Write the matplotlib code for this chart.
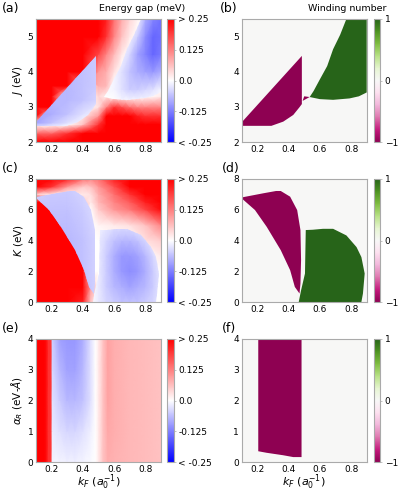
import numpy as np
import matplotlib
matplotlib.use('Agg')
import matplotlib.pyplot as plt
from matplotlib.patches import Polygon
from matplotlib.colors import Normalize
from matplotlib.cm import ScalarMappable

# ---------- data ----------
kf_ticks = [0.2, 0.4, 0.6, 0.8]

# winding-number regions (b): J vs kF
b_minus_kf = [0.1, 0.485, 0.485, 0.47, 0.43, 0.366, 0.29, 0.1]
b_minus_J = [2.56, 4.45, 3.08, 2.99, 2.77, 2.58, 2.46, 2.46]
b_small_kf = [0.49, 0.535, 0.5]
b_small_J = [3.17, 3.28, 3.3]
b_plus_kf = [0.535, 0.56, 0.6, 0.647, 0.685, 0.73, 0.77, 0.9, 0.9, 0.85, 0.79, 0.685, 0.6]
b_plus_J = [3.28, 3.45, 3.78, 4.16, 4.64, 5.05, 5.5, 5.5, 3.41, 3.3, 3.24, 3.2, 3.22]

# winding-number regions (d): K vs kF
d_minus_kf = [0.1, 0.185, 0.26, 0.35, 0.41, 0.44, 0.47, 0.476, 0.48, 0.476, 0.455,
              0.41, 0.35, 0.32, 0.238, 0.1]
d_minus_K = [6.74, 5.98, 4.89, 3.37, 2.07, 0.98, 0.55, 1.2, 2.72, 4.68, 5.98,
             6.85, 7.22, 7.22, 7.07, 6.8]
d_plus_kf = [0.51, 0.555, 0.62, 0.685, 0.77, 0.835, 0.866, 0.887, 0.876, 0.866,
             0.465, 0.48, 0.505]
d_plus_K = [4.68, 4.7, 4.76, 4.76, 4.33, 3.57, 2.92, 1.85, 0.55, 0.0,
            0.0, 0.76, 1.85]

# winding-number region (f): alpha_R vs kF
f_minus_kf = [0.206, 0.483, 0.483, 0.43, 0.365, 0.259, 0.206]
f_minus_a = [4.0, 4.0, 0.16, 0.16, 0.22, 0.30, 0.35]

# energy gap (a): background field
a_kf = [0.1, 0.2, 0.3, 0.4, 0.5, 0.55, 0.6, 0.65, 0.7, 0.75, 0.8, 0.9]
a_J = [2.0, 2.25, 2.5, 2.75, 3.0, 3.3, 3.6, 4.0, 4.5, 5.0, 5.5]
a_gap = [
    [0.3, 0.3, 0.3, 0.3, 0.3, 0.3, 0.3, 0.3, 0.3, 0.3, 0.3, 0.3],
    [0.15, 0.15, 0.2, 0.28, 0.3, 0.3, 0.3, 0.3, 0.3, 0.3, 0.3, 0.3],
    [0.0, 0.0, 0.0, 0.06, 0.2, 0.3, 0.3, 0.3, 0.3, 0.3, 0.28, 0.26],
    [0.3, 0.0, 0.0, 0.02, 0.1, 0.26, 0.3, 0.28, 0.25, 0.22, 0.2, 0.2],
    [0.3, 0.3, 0.0, 0.0, 0.03, 0.12, 0.2, 0.17, 0.14, 0.12, 0.12, 0.12],
    [0.3, 0.3, 0.0, 0.0, 0.04, 0.02, 0.0, 0.0, 0.0, 0.0, 0.0, 0.02],
    [0.3, 0.3, 0.3, 0.0, 0.08, 0.07, 0.0, 0.0, 0.0, 0.0, 0.0, 0.0],
    [0.3, 0.3, 0.3, 0.3, 0.1, 0.08, 0.03, 0.0, 0.0, 0.0, 0.0, 0.0],
    [0.3, 0.3, 0.3, 0.3, 0.18, 0.12, 0.07, 0.02, 0.0, 0.0, 0.0, 0.0],
    [0.3, 0.3, 0.3, 0.3, 0.28, 0.2, 0.12, 0.06, 0.02, 0.0, 0.0, 0.0],
    [0.3, 0.3, 0.3, 0.3, 0.3, 0.22, 0.14, 0.08, 0.04, 0.01, 0.0, 0.0],
]
# energy gap (a): inside the -1 region
aw_kf = [0.1, 0.2, 0.3, 0.4, 0.5]
aw_J = [2.4, 2.55, 2.8, 3.2, 3.6, 4.0, 4.5]
aw_gap = [
    [-0.02, -0.01, 0.0, 0.0, 0.0],
    [-0.09, -0.06, -0.03, -0.01, 0.0],
    [-0.09, -0.08, -0.06, -0.03, -0.01],
    [-0.08, -0.07, -0.07, -0.06, -0.04],
    [-0.07, -0.07, -0.07, -0.06, -0.05],
    [-0.07, -0.07, -0.07, -0.06, -0.05],
    [-0.07, -0.07, -0.07, -0.06, -0.05],
]
# energy gap (a): inside the +1 region
ag_kf = [0.5, 0.6, 0.65, 0.7, 0.75, 0.8, 0.85, 0.9]
ag_J = [3.2, 3.5, 4.0, 4.5, 5.0, 5.5]
ag_gap = [
    [0.0, 0.0, -0.01, -0.01, -0.01, -0.01, -0.005, 0.0],
    [0.0, -0.01, -0.03, -0.05, -0.05, -0.04, -0.03, -0.01],
    [0.0, -0.01, -0.03, -0.06, -0.08, -0.09, -0.1, -0.08],
    [0.0, 0.0, -0.01, -0.04, -0.09, -0.12, -0.15, -0.13],
    [0.0, 0.0, 0.0, -0.01, -0.05, -0.11, -0.15, -0.14],
    [0.0, 0.0, 0.0, 0.0, -0.01, -0.08, -0.12, -0.14],
]

# energy gap (c): background field
c_kf = [0.1, 0.2, 0.3, 0.4, 0.45, 0.5, 0.6, 0.7, 0.8, 0.9]
c_K = [0, 1, 2, 3, 4, 5, 6, 6.5, 7, 7.5, 8]
c_gap = [
    [0.3, 0.3, 0.3, 0.22, 0.06, 0.0, 0.0, 0.0, 0.0, 0.0],
    [0.3, 0.3, 0.3, 0.25, 0.1, 0.0, 0.0, 0.0, 0.0, 0.0],
    [0.3, 0.3, 0.3, 0.3, 0.0, 0.0, 0.0, 0.0, 0.0, 0.0],
    [0.3, 0.3, 0.3, 0.3, 0.0, 0.0, 0.0, 0.0, 0.0, 0.02],
    [0.3, 0.3, 0.3, 0.3, 0.0, 0.0, 0.0, 0.0, 0.03, 0.05],
    [0.3, 0.3, 0.3, 0.2, 0.0, 0.01, 0.02, 0.03, 0.06, 0.12],
    [0.3, 0.3, 0.3, 0.1, 0.0, 0.05, 0.1, 0.13, 0.18, 0.24],
    [0.3, 0.3, 0.1, 0.05, 0.02, 0.07, 0.12, 0.16, 0.22, 0.28],
    [0.05, 0.02, 0.01, 0.02, 0.03, 0.08, 0.14, 0.2, 0.27, 0.3],
    [0.3, 0.2, 0.1, 0.05, 0.06, 0.1, 0.17, 0.26, 0.3, 0.3],
    [0.3, 0.3, 0.22, 0.14, 0.12, 0.14, 0.22, 0.3, 0.3, 0.3],
]
cw_kf = [0.1, 0.2, 0.3, 0.4, 0.5]
cw_K = [0, 2, 4, 6, 7.5]
cw_gap = [
    [-0.07, -0.07, -0.07, -0.07, -0.04],
    [-0.07, -0.07, -0.07, -0.06, -0.04],
    [-0.07, -0.07, -0.07, -0.06, -0.04],
    [-0.06, -0.06, -0.06, -0.05, -0.03],
    [-0.04, -0.05, -0.05, -0.04, -0.02],
]
cg_kf = [0.45, 0.5, 0.55, 0.6, 0.65, 0.7, 0.75, 0.8, 0.85, 0.9]
cg_K = [0, 1, 2, 3, 4, 5]
cg_gap = [
    [0.0, -0.02, -0.04, -0.05, -0.06, -0.06, -0.06, -0.05, -0.04, -0.02],
    [0.0, -0.02, -0.05, -0.07, -0.08, -0.09, -0.08, -0.07, -0.05, -0.02],
    [0.0, -0.02, -0.05, -0.08, -0.1, -0.11, -0.1, -0.08, -0.05, -0.02],
    [0.0, -0.02, -0.05, -0.08, -0.1, -0.1, -0.09, -0.07, -0.04, -0.01],
    [0.0, -0.02, -0.04, -0.06, -0.07, -0.07, -0.06, -0.04, -0.02, 0.0],
    [0.0, -0.01, -0.02, -0.03, -0.03, -0.03, -0.02, -0.01, 0.0, 0.0],
]

# energy gap (e): alpha_R vs kF
e_kf = [0.1, 0.15, 0.165, 0.18, 0.195, 0.205, 0.25, 0.3, 0.35, 0.4, 0.45, 0.48,
        0.5, 0.53, 0.56, 0.6, 0.7, 0.8, 0.9]
e_a = [0, 1, 2, 3, 4]
e_gap = [
    [0.3, 0.3, 0.24, 0.2, 0.2, -0.01, -0.01, -0.015, -0.015, -0.01, -0.005, 0.0,
     0.02, 0.06, 0.08, 0.075, 0.07, 0.065, 0.06],
    [0.3, 0.3, 0.24, 0.2, 0.2, -0.02, -0.03, -0.04, -0.04, -0.03, -0.015, 0.0,
     0.02, 0.06, 0.085, 0.08, 0.07, 0.065, 0.06],
    [0.3, 0.3, 0.24, 0.2, 0.2, -0.03, -0.05, -0.07, -0.07, -0.06, -0.03, 0.0,
     0.02, 0.06, 0.09, 0.08, 0.07, 0.065, 0.06],
    [0.3, 0.3, 0.24, 0.2, 0.2, -0.04, -0.07, -0.09, -0.09, -0.07, -0.03, 0.0,
     0.02, 0.06, 0.09, 0.08, 0.07, 0.065, 0.06],
    [0.3, 0.3, 0.24, 0.2, 0.2, -0.05, -0.09, -0.1, -0.1, -0.08, -0.03, 0.0,
     0.02, 0.06, 0.09, 0.08, 0.07, 0.065, 0.06],
]

gap_ticks = [-0.25, -0.125, 0.0, 0.125, 0.25]
gap_labels = ['< -0.25', '-0.125', '0.0', '0.125', '> 0.25']

# ---------- figure ----------
W, H = 399, 492
fig = plt.figure(figsize=(W / 100, H / 100), dpi=100)
plt.rcParams['font.family'] = 'DejaVu Sans'

gap_cmap = plt.get_cmap('bwr')
gap_norm = Normalize(-0.25, 0.25)
wind_cmap = plt.get_cmap('PiYG')
wind_norm = Normalize(-1, 1)
spine_c = '#aaaaaa'


def px_axes(x0, y0, w, h):
    return fig.add_axes([x0 / W, 1 - (y0 + h) / H, w / W, h / H])


def style(ax, xlim, ylim, yticks):
    ax.set_xlim(*xlim)
    ax.set_ylim(*ylim)
    ax.set_xticks(kf_ticks)
    ax.set_yticks(yticks)
    ax.tick_params(length=0, pad=2, labelsize=6.5)
    for s in ax.spines.values():
        s.set_edgecolor(spine_c)
        s.set_linewidth(0.8)


def field(ax, xs, ys, vals, clip=None):
    m = ax.pcolormesh(xs, ys, np.clip(np.array(vals), -0.3, 0.3), cmap=gap_cmap,
                      norm=gap_norm, shading='gouraud', rasterized=True)
    if clip is not None:
        p = Polygon(np.column_stack(clip), closed=True, transform=ax.transData,
                    facecolor='none', edgecolor='none')
        ax.add_patch(p)
        m.set_clip_path(p)
    return m


def gap_cbar(y0):
    cax = px_axes(167, y0, 7, 123)
    cb = fig.colorbar(ScalarMappable(gap_norm, gap_cmap), cax=cax)
    cb.set_ticks(gap_ticks)
    cb.set_ticklabels(gap_labels)
    cb.ax.tick_params(length=1.5, width=0.5, pad=1.5, labelsize=6.5, color=spine_c)
    cb.outline.set_edgecolor(spine_c)
    cb.outline.set_linewidth(0.8)


def wind_cbar(y0):
    cax = px_axes(373.5, y0, 7, 123)
    cb = fig.colorbar(ScalarMappable(wind_norm, wind_cmap), cax=cax)
    cb.set_ticks([-1, 0, 1])
    cb.ax.tick_params(length=1.5, width=0.5, pad=1.5, labelsize=6.5, color=spine_c)
    cb.outline.set_edgecolor(spine_c)
    cb.outline.set_linewidth(0.8)


def wind_panel(ax, regions):
    ax.set_facecolor(wind_cmap(wind_norm(0)))
    for xs, ys, w in regions:
        ax.fill(xs, ys, color=wind_cmap(wind_norm(w)), lw=0)


def kf_label(ax):
    ax.set_xlabel(r'$k_F$ ($a_0^{-1}$)', fontsize=8, va='top')
    ax.xaxis.set_label_coords(0.5, -0.085)


rows = [19, 179, 339]
lab_kw = dict(fontsize=9, va='top', ha='left')

# row 1
ax = px_axes(36, rows[0], 125, 123)
field(ax, a_kf, a_J, a_gap)
field(ax, aw_kf, aw_J, aw_gap, clip=(b_minus_kf, b_minus_J))
field(ax, ag_kf, ag_J, ag_gap, clip=(b_plus_kf, b_plus_J))
style(ax, (0.1, 0.9), (2, 5.5), [2, 3, 4, 5])
ax.set_ylabel(r'$J$ (eV)', fontsize=7.5, labelpad=2)
gap_cbar(rows[0])

ax = px_axes(241.7, rows[0], 125, 123)
wind_panel(ax, [(b_minus_kf, b_minus_J, -1), (b_small_kf, b_small_J, -1),
                (b_plus_kf, b_plus_J, 1)])
style(ax, (0.1, 0.9), (2, 5.5), [2, 3, 4, 5])
wind_cbar(rows[0])

# row 2
ax = px_axes(36, rows[1], 125, 123)
field(ax, c_kf, c_K, c_gap)
field(ax, cw_kf, cw_K, cw_gap, clip=(d_minus_kf, d_minus_K))
field(ax, cg_kf, cg_K, cg_gap, clip=(d_plus_kf, d_plus_K))
style(ax, (0.1, 0.9), (0, 8), [0, 2, 4, 6, 8])
ax.set_ylabel(r'$K$ (eV)', fontsize=7.5, labelpad=2)
gap_cbar(rows[1])

ax = px_axes(241.7, rows[1], 125, 123)
wind_panel(ax, [(d_minus_kf, d_minus_K, -1), (d_plus_kf, d_plus_K, 1)])
style(ax, (0.1, 0.9), (0, 8), [0, 2, 4, 6, 8])
wind_cbar(rows[1])

# row 3
ax = px_axes(36, rows[2], 125, 123)
field(ax, e_kf, e_a, e_gap)
style(ax, (0.1, 0.9), (0, 4), [0, 1, 2, 3, 4])
ax.set_ylabel(r'$\alpha_R$ (eV-$\AA$)', fontsize=7.5, labelpad=2)
kf_label(ax)
gap_cbar(rows[2])

ax = px_axes(241.7, rows[2], 125, 123)
wind_panel(ax, [(f_minus_kf, f_minus_a, -1)])
style(ax, (0.1, 0.9), (0, 4), [0, 1, 2, 3, 4])
kf_label(ax)
wind_cbar(rows[2])

# labels
fig.text(142 / W, 1 - 4 / H, 'Energy gap (meV)', fontsize=6.8, ha='center', va='top')
fig.text(347 / W, 1 - 4 / H, 'Winding number', fontsize=6.8, ha='center', va='top')
for lab, x, y in [('(a)', 2, 2), ('(b)', 220, 2), ('(c)', 2, 162),
                  ('(d)', 222, 162), ('(e)', 2, 322), ('(f)', 222, 322)]:
    fig.text(x / W, 1 - y / H, lab, **lab_kw)

fig.savefig('out.png', dpi=100)
